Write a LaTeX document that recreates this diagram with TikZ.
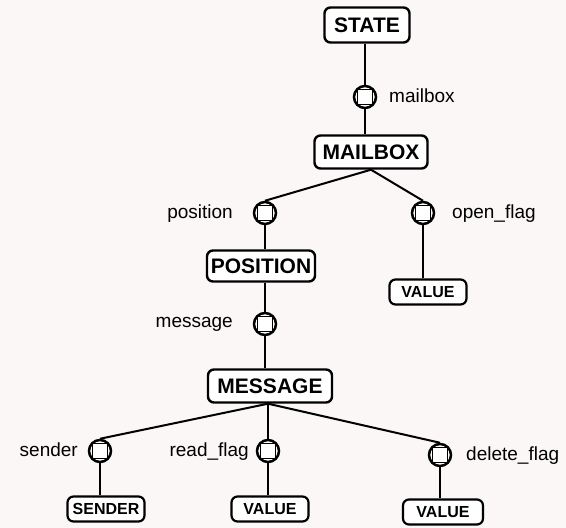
\documentclass[tikz,border=0pt]{standalone}
\usepackage{fontspec}
\setmainfont{Liberation Sans}
\definecolor{paper}{RGB}{250,247,246}
\begin{document}
\begin{tikzpicture}[x=1pt,y=-1pt,
  concept/.style={draw, line width=2.4pt, rounded corners=6pt, fill=white, font=\bfseries\fontsize{21}{21}\selectfont, inner sep=0pt, text height=15pt, text depth=0pt},
  small/.style={draw, line width=2.2pt, rounded corners=6pt, fill=white, font=\bfseries\fontsize{16}{16}\selectfont, inner sep=0pt, text height=11.5pt, text depth=0pt, minimum width=77pt, minimum height=25pt},
  role/.style={circle, draw, line width=2.5pt, fill=white, minimum size=22pt, inner sep=0pt,
    path picture={\draw[line width=1.7pt] ([shift={(-7.5pt,-7.5pt)}]path picture bounding box.center) rectangle ([shift={(7.5pt,7.5pt)}]path picture bounding box.center);}},
  lbl/.style={font=\fontsize{19}{19}\selectfont, inner sep=0pt, text height=14pt, text depth=4pt},
  conn/.style={line width=2pt}]
\useasboundingbox (0,0) rectangle (566,528);
\fill[paper] (0,0) rectangle (566,528);
% concepts and roles
\node[concept, minimum width=85pt, minimum height=35pt] (state) at (367,25) {STATE};
\node[role] (r1) at (365,97) {};
\node[lbl, anchor=west] (l1) at (389,97) {mailbox};
\node[concept, minimum width=113pt, minimum height=33pt] (mailbox) at (371,152) {MAILBOX};
\node[role] (r2) at (265,213) {};
\node[lbl, anchor=east] (l2) at (233,213) {position};
\node[role] (r3) at (423,213) {};
\node[lbl, anchor=west] (l3) at (452,213) {open\_flag};
\node[concept, minimum width=108pt, minimum height=31pt] (position) at (261,266) {POSITION};
\node[small] (v1) at (428,292) {VALUE};
\node[role] (r4) at (265,324) {};
\node[lbl, anchor=east] (l4) at (233,322) {message};
\node[concept, minimum width=124pt, minimum height=33pt] (message) at (270,386) {MESSAGE};
\node[role] (r5) at (100,451) {};
\node[lbl, anchor=east] (l5) at (78,451) {sender};
\node[role] (r6) at (268,451) {};
\node[lbl, anchor=east] (l6) at (249,451) {read\_flag};
\node[role] (r7) at (440,455) {};
\node[lbl, anchor=west] (l7) at (466,455) {delete\_flag};
\node[small] (sender) at (106,509) {SENDER};
\node[small] (v2) at (270,509) {VALUE};
\node[small, minimum width=80pt] (v3) at (443,512) {VALUE};
% connectors
\draw[conn] (state.south -| r1) -- (r1.north);
\draw[conn] (r1.south) -- (mailbox.north -| r1);
\draw[conn] (mailbox.south) -- (r2.north);
\draw[conn] (mailbox.south) -- (r3.north);
\draw[conn] (r2.south) -- (position.north -| r2);
\draw[conn] (r3.south) -- (v1.north -| r3);
\draw[conn] (position.south -| r4) -- (r4.north);
\draw[conn] (r4.south) -- (message.north -| r4);
\draw[conn] (message.south -| r6) -- (r5.north);
\draw[conn] (message.south -| r6) -- (r6.north);
\draw[conn] (message.south -| r6) -- (r7.north);
\draw[conn] (r5.south) -- (sender.north -| r5);
\draw[conn] (r6.south) -- (v2.north -| r6);
\draw[conn] (r7.south) -- (v3.north -| r7);
\end{tikzpicture}
\end{document}
